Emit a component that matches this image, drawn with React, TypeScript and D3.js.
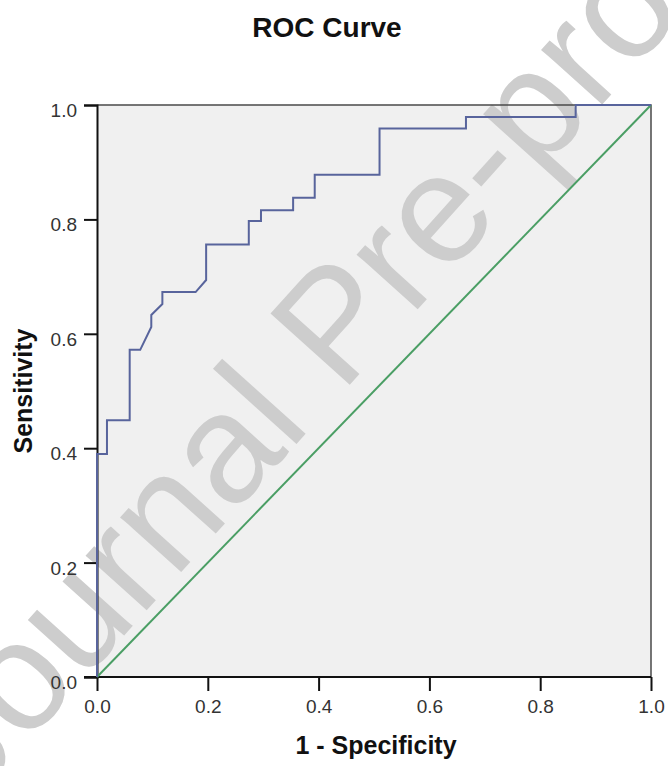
import React, { useEffect, useRef } from 'react'
import * as d3 from 'd3'

// ROC points (1 - specificity, sensitivity)
const fpr = [0, 0, 0.018, 0.018, 0.059, 0.059, 0.078, 0.098, 0.098, 0.118, 0.118, 0.178, 0.197, 0.197, 0.274, 0.274, 0.296, 0.296, 0.354, 0.354, 0.393, 0.393, 0.51, 0.51, 0.666, 0.666, 0.864, 0.864, 1]
const tpr = [0, 0.39, 0.39, 0.449, 0.449, 0.572, 0.572, 0.612, 0.633, 0.652, 0.673, 0.673, 0.694, 0.756, 0.756, 0.797, 0.797, 0.816, 0.816, 0.838, 0.838, 0.878, 0.878, 0.959, 0.959, 0.979, 0.979, 1, 1]
const refLine = [0, 1]
const ticks = [0, 0.2, 0.4, 0.6, 0.8, 1.0]

const W = 668
const H = 766

const App = () => {
  const ref = useRef<SVGSVGElement>(null)

  useEffect(() => {
    document.body.style.margin = '0'
    const svg = d3.select(ref.current)
    svg.selectAll('*').remove()

    const left = 97, right = 651, top = 105, bottom = 677
    const x = d3.scaleLinear().domain([0, 1]).range([left, right])
    const y = d3.scaleLinear().domain([0, 1]).range([bottom, top])
    const font = 'Arial, "Liberation Sans", sans-serif'

    svg.append('rect').attr('width', W).attr('height', H).attr('fill', '#fff')

    // plot background
    svg.append('rect')
      .attr('x', left).attr('y', top)
      .attr('width', right - left).attr('height', bottom - top)
      .attr('fill', '#f0f0f0')

    // watermark
    svg.append('text')
      .attr('transform', 'translate(373,359) rotate(-48)')
      .attr('text-anchor', 'middle')
      .attr('font-family', font)
      .attr('font-size', 155)
      .attr('fill', '#cdcdcd')
      .text('Journal Pre-proof')

    // frame top/right
    svg.append('path')
      .attr('d', `M${left},${top}H${right}V${bottom}`)
      .attr('fill', 'none')
      .attr('stroke', '#4a4a4a')
      .attr('stroke-width', 1.5)

    // axes
    const xAxis = d3.axisBottom(x).tickValues(ticks).tickSize(14).tickFormat(d3.format('.1f'))
    const yAxis = d3.axisLeft(y).tickValues(ticks).tickSize(13).tickFormat(d3.format('.1f'))

    const gx = svg.append('g').attr('transform', `translate(0,${bottom})`).call(xAxis)
    const gy = svg.append('g').attr('transform', `translate(${left},0)`).call(yAxis)
    ;[gx, gy].forEach(g => {
      g.select('.domain').attr('stroke', '#111').attr('stroke-width', 2)
      g.selectAll('.tick line').attr('stroke', '#111').attr('stroke-width', 2)
      g.selectAll('.tick text')
        .attr('font-family', font)
        .attr('font-size', 19)
        .attr('fill', '#333')
    })
    gx.select('.domain').attr('d', `M${left - 13},0H${right}`)
    gx.selectAll('.tick text').attr('y', 23).attr('dy', '0.71em')
    gy.selectAll('.tick text').attr('x', -20).attr('dy', '0.6em')

    // diagonal reference
    svg.append('line')
      .attr('x1', x(refLine[0])).attr('y1', y(refLine[0]))
      .attr('x2', x(refLine[1])).attr('y2', y(refLine[1]))
      .attr('stroke', '#4a9e64')
      .attr('stroke-width', 2)

    // ROC curve
    const line = d3.line<number>()
      .x(i => x(fpr[i]))
      .y(i => y(tpr[i]))
    svg.append('path')
      .datum(d3.range(fpr.length))
      .attr('d', line)
      .attr('fill', 'none')
      .attr('stroke', '#58649c')
      .attr('stroke-width', 2)

    // titles
    svg.append('text')
      .attr('x', 327).attr('y', 37)
      .attr('text-anchor', 'middle')
      .attr('font-family', font)
      .attr('font-weight', 'bold')
      .attr('font-size', 28)
      .attr('fill', '#111')
      .text('ROC Curve')

    svg.append('text')
      .attr('x', 376).attr('y', 754)
      .attr('text-anchor', 'middle')
      .attr('font-family', font)
      .attr('font-weight', 'bold')
      .attr('font-size', 25)
      .attr('fill', '#111')
      .text('1 - Specificity')

    svg.append('text')
      .attr('transform', 'translate(32,391) rotate(-90)')
      .attr('text-anchor', 'middle')
      .attr('font-family', font)
      .attr('font-weight', 'bold')
      .attr('font-size', 25)
      .attr('fill', '#111')
      .text('Sensitivity')
  }, [])

  return <svg ref={ref} width={W} height={H} style={{ display: 'block' }} />
}

export default App
